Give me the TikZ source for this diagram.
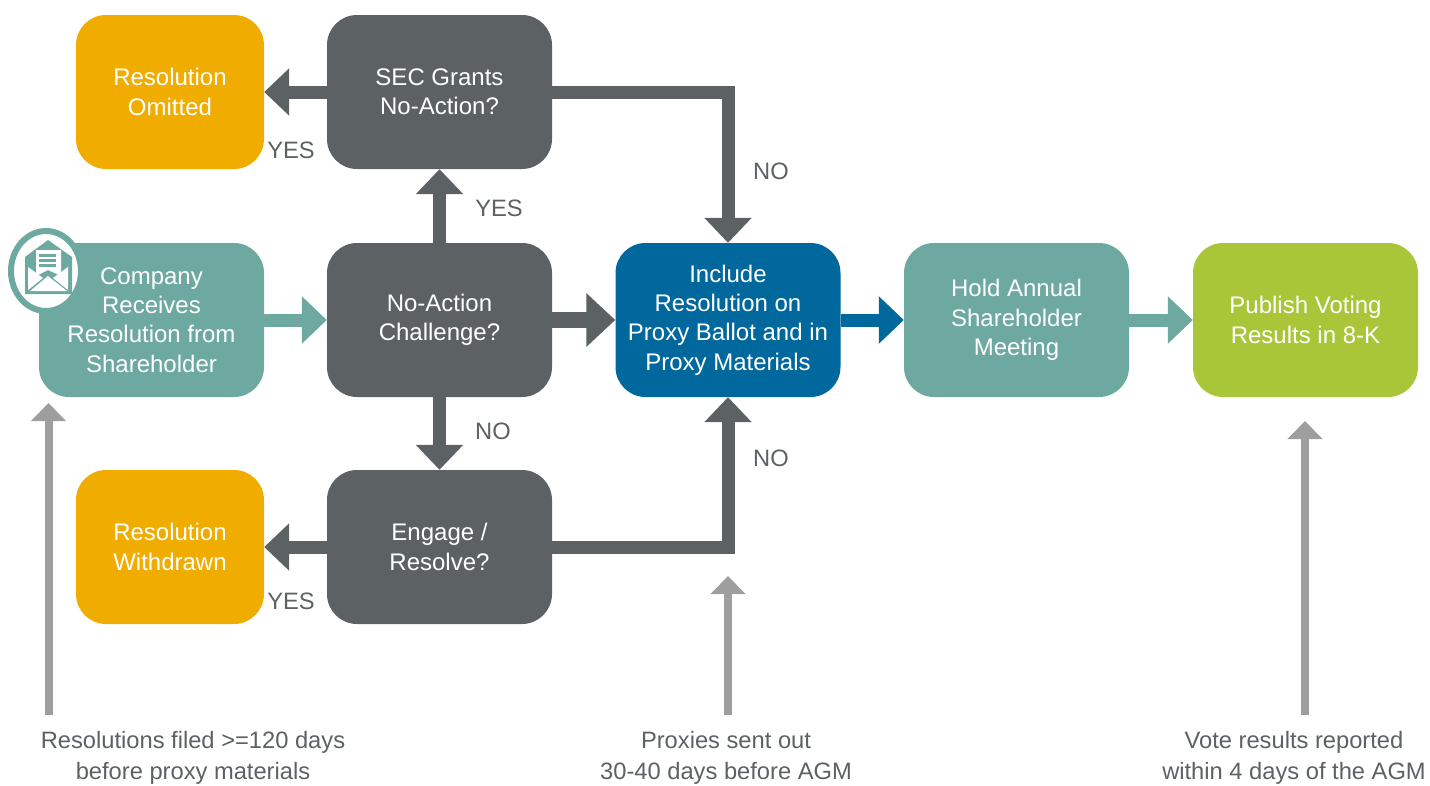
\documentclass[tikz,border=0pt]{standalone}
\usepackage{fontspec}
\setmainfont{Liberation Sans}
\usetikzlibrary{arrows.meta}
\definecolor{tealbox}{HTML}{6DA9A1}
\definecolor{darkbox}{HTML}{5C6163}
\definecolor{goldbox}{HTML}{F0AD00}
\definecolor{bluebox}{HTML}{00689D}
\definecolor{limebox}{HTML}{A9C638}
\definecolor{timeline}{HTML}{9E9E9E}
\tikzset{
  box/.style={rectangle, rounded corners=30pt, minimum width=225pt, minimum height=154pt,
    inner sep=0pt, align=center, text=white, font=\fontsize{24}{29.3}\selectfont},
  smallbox/.style={box, minimum width=188pt},
  flow/.style={line width=13pt, -{Triangle[length=25pt,width=46pt]}},
  note/.style={text=darkbox, font=\fontsize{23.7}{31}\selectfont, align=center, inner sep=0pt},
  timearrow/.style={line width=8pt, timeline, -{Triangle[length=18pt,width=34pt]}}
}

\begin{document}
\begin{tikzpicture}[x=1pt,y=-1pt]
  \useasboundingbox (0,0) rectangle (1430,785);

  % Draw the boxes
  \node[smallbox, fill=goldbox] (omitted) at (170,92) {Resolution\\Omitted};
  \node[box, fill=darkbox] (sec) at (439.5,92) {SEC Grants\\No-Action?};
  \node[box, fill=tealbox] (company) at (151.5,320) {Company\\Receives\\Resolution from\\Shareholder};
  \node[box, fill=darkbox] (challenge) at (439.5,320) {No-Action\\Challenge?};
  \node[box, fill=bluebox] (include) at (728,320) {Include\\Resolution on\\Proxy Ballot and in\\Proxy Materials};
  \node[box, fill=tealbox] (meeting) at (1016.5,320) {Hold Annual\\Shareholder\\Meeting};
  \node[box, fill=limebox] (publish) at (1305.5,320) {Publish Voting\\Results in 8-K};
  \node[smallbox, fill=goldbox] (withdrawn) at (170,547) {Resolution\\Withdrawn};
  \node[box, fill=darkbox] (engage) at (439.5,547) {Engage /\\Resolve?};

  % Draw the arrows between the boxes
  \draw[flow, tealbox] (company) -- (challenge);
  \draw[flow, bluebox] (include) -- (meeting);
  \draw[flow, tealbox] (meeting) -- (publish);
  \draw[flow, darkbox, line width=16pt, -{Triangle[length=29pt,width=52pt]}] (challenge) -- (include);
  \draw[flow, darkbox] (challenge) -- (sec);
  \draw[flow, darkbox] (challenge) -- (engage);
  \draw[flow, darkbox] (sec) -- (omitted);
  \draw[flow, darkbox] (engage) -- (withdrawn);
  \draw[flow, darkbox] (sec.east) -| (include.north);
  \draw[flow, darkbox] (engage.east) -| (include.south);

  % Draw the yes and no labels
  \node[note] (yesomit) at (291,150) {YES};
  \node[note] (yessec) at (499,208) {YES};
  \node[note] (nosec) at (771,171) {NO};
  \node[note] (noengage) at (493,431) {NO};
  \node[note] (noinclude) at (771,458) {NO};
  \node[note] (yesdraw) at (291,601) {YES};

  % Draw the timeline notes and their arrows
  \node[note] (filed) at (193,758) {Resolutions filed >=120 days\\before proxy materials};
  \node[note] (sent) at (726,758) {Proxies sent out\\30-40 days before AGM};
  \node[note] (vote) at (1294,758) {Vote results reported\\within 4 days of the AGM};
  \coordinate (filedfoot) at (48.5,715);
  \coordinate (filedtip) at (48.5,403);
  \coordinate (sentfoot) at (728,715);
  \coordinate (senttip) at (728,576);
  \coordinate (votefoot) at (1305,715);
  \coordinate (votetip) at (1305,421);
  \draw[timearrow] (filedfoot) -- (filedtip);
  \draw[timearrow] (sentfoot) -- (senttip);
  \draw[timearrow] (votefoot) -- (votetip);

  % Draw the envelope badge
  \draw[line width=6pt, tealbox, fill=white] (46,271) ellipse (35 and 40);
  \fill[tealbox] (25,257) -- (48,240) -- (72,257) -- (72,294) -- (25,294) -- cycle;
  \fill[white] (36,250) -- (61,250) -- (61,276) -- (48,270) -- (36,276) -- cycle;
  \fill[tealbox] (39,254) rectangle (56,257);
  \fill[tealbox] (39,259) rectangle (56,262);
  \fill[tealbox] (39,264) rectangle (56,267);
  \fill[white] (28,267) -- (43,278) -- (28,290) -- cycle;
  \fill[white] (68,267) -- (53,278) -- (68,290) -- cycle;
  \fill[white] (30,291) -- (48,276) -- (67,291) -- cycle;
\end{tikzpicture}
\end{document}
